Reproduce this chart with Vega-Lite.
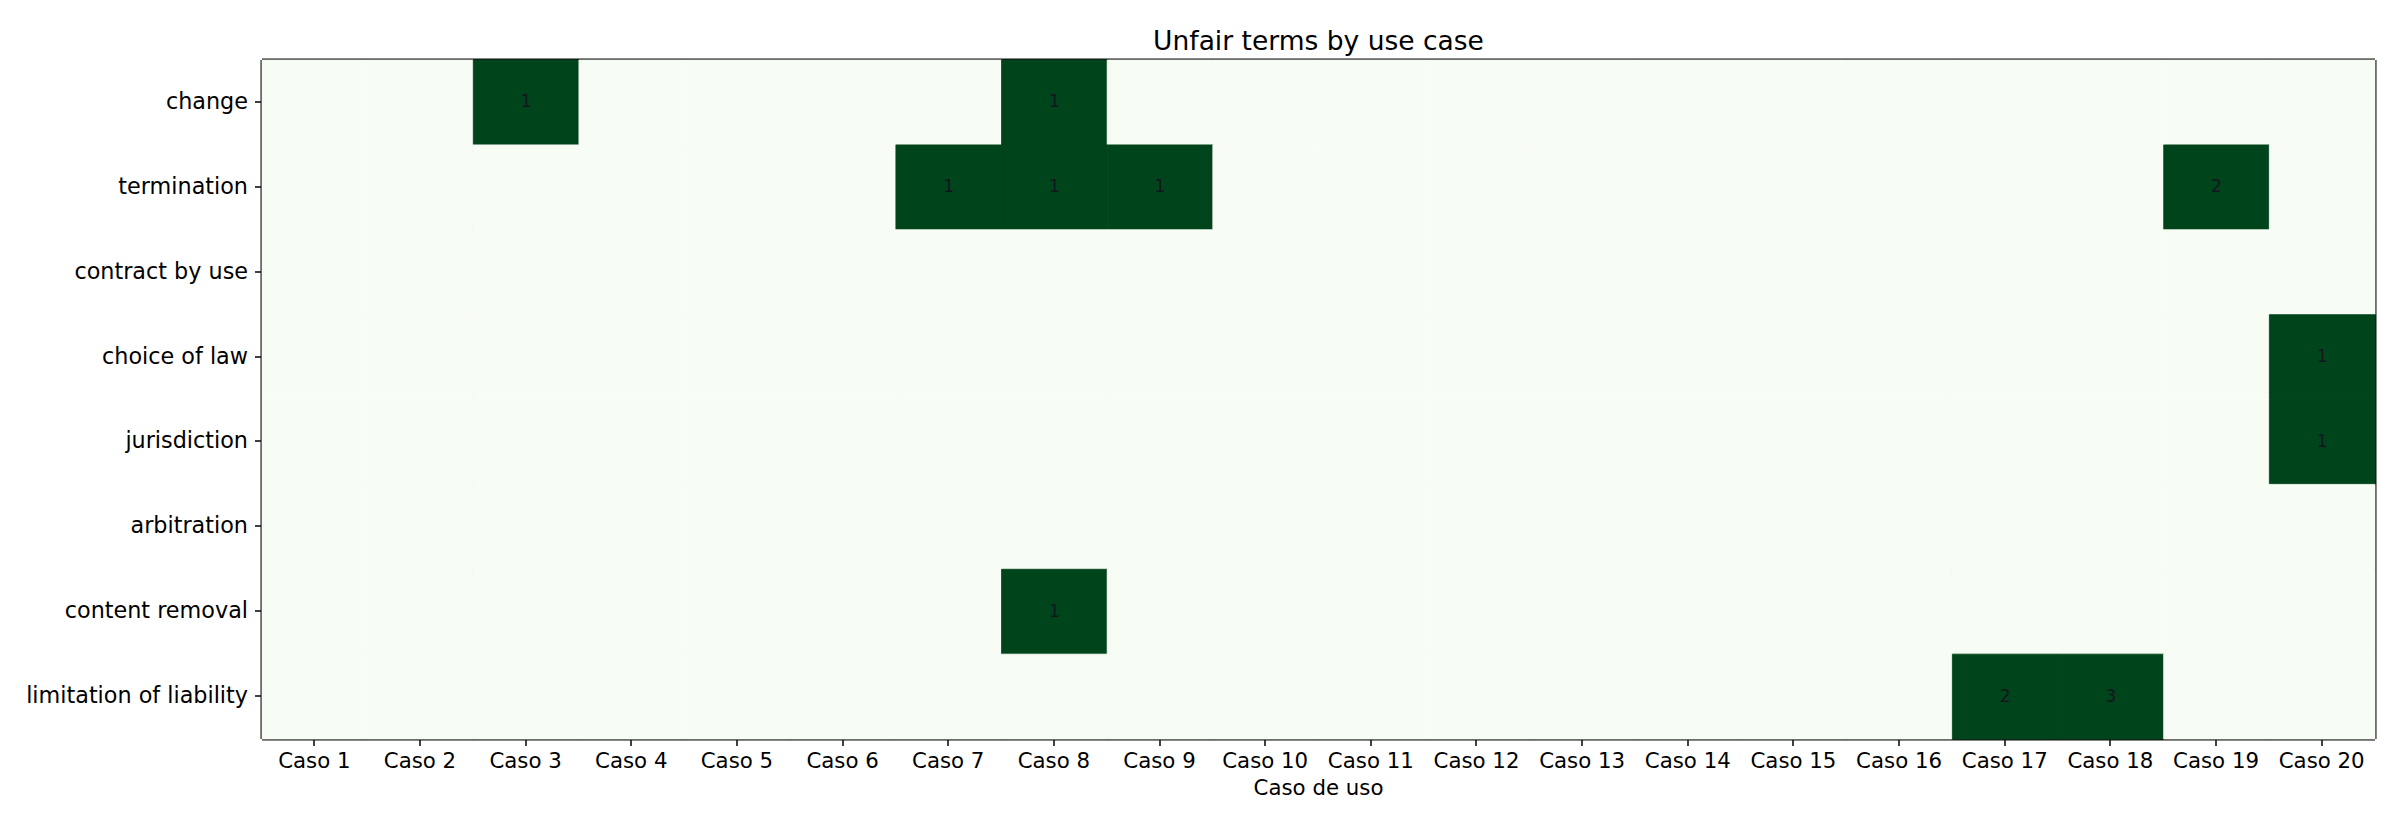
{
  "$schema": "https://vega.github.io/schema/vega-lite/v6.json",
  "width": 2113,
  "height": 679,
  "autosize": {"type": "none"},
  "padding": {"left": 262, "top": 60, "right": 25, "bottom": 93},
  "background": "white",
  "title": {"text": "Unfair terms by use case", "font": "DejaVu Sans", "fontSize": 26.5, "fontWeight": "normal", "color": "black", "anchor": "middle", "offset": 4},
  "config": {
    "view": {"stroke": null},
    "axis": {"zindex": 1, "translate": 0, "labelFont": "DejaVu Sans", "labelFontSize": 21.3, "labelColor": "black", "labelLimit": 0, "tickColor": "#111111", "tickSize": 7, "tickWidth": 1.6, "domain": true, "domainColor": "#111111", "domainWidth": 3, "grid": false, "titleFont": "DejaVu Sans", "titleFontSize": 21.3, "titleFontWeight": "normal", "titleColor": "black"}
  },
  "data": {"values": [
    {"t":"change","c":"Caso 1","v":0},{"t":"change","c":"Caso 2","v":0},{"t":"change","c":"Caso 3","v":1},{"t":"change","c":"Caso 4","v":0},{"t":"change","c":"Caso 5","v":0},{"t":"change","c":"Caso 6","v":0},{"t":"change","c":"Caso 7","v":0},{"t":"change","c":"Caso 8","v":1},{"t":"change","c":"Caso 9","v":0},{"t":"change","c":"Caso 10","v":0},{"t":"change","c":"Caso 11","v":0},{"t":"change","c":"Caso 12","v":0},{"t":"change","c":"Caso 13","v":0},{"t":"change","c":"Caso 14","v":0},{"t":"change","c":"Caso 15","v":0},{"t":"change","c":"Caso 16","v":0},{"t":"change","c":"Caso 17","v":0},{"t":"change","c":"Caso 18","v":0},{"t":"change","c":"Caso 19","v":0},{"t":"change","c":"Caso 20","v":0},
    {"t":"termination","c":"Caso 1","v":0},{"t":"termination","c":"Caso 2","v":0},{"t":"termination","c":"Caso 3","v":0},{"t":"termination","c":"Caso 4","v":0},{"t":"termination","c":"Caso 5","v":0},{"t":"termination","c":"Caso 6","v":0},{"t":"termination","c":"Caso 7","v":1},{"t":"termination","c":"Caso 8","v":1},{"t":"termination","c":"Caso 9","v":1},{"t":"termination","c":"Caso 10","v":0},{"t":"termination","c":"Caso 11","v":0},{"t":"termination","c":"Caso 12","v":0},{"t":"termination","c":"Caso 13","v":0},{"t":"termination","c":"Caso 14","v":0},{"t":"termination","c":"Caso 15","v":0},{"t":"termination","c":"Caso 16","v":0},{"t":"termination","c":"Caso 17","v":0},{"t":"termination","c":"Caso 18","v":0},{"t":"termination","c":"Caso 19","v":2},{"t":"termination","c":"Caso 20","v":0},
    {"t":"contract by use","c":"Caso 1","v":0},{"t":"contract by use","c":"Caso 2","v":0},{"t":"contract by use","c":"Caso 3","v":0},{"t":"contract by use","c":"Caso 4","v":0},{"t":"contract by use","c":"Caso 5","v":0},{"t":"contract by use","c":"Caso 6","v":0},{"t":"contract by use","c":"Caso 7","v":0},{"t":"contract by use","c":"Caso 8","v":0},{"t":"contract by use","c":"Caso 9","v":0},{"t":"contract by use","c":"Caso 10","v":0},{"t":"contract by use","c":"Caso 11","v":0},{"t":"contract by use","c":"Caso 12","v":0},{"t":"contract by use","c":"Caso 13","v":0},{"t":"contract by use","c":"Caso 14","v":0},{"t":"contract by use","c":"Caso 15","v":0},{"t":"contract by use","c":"Caso 16","v":0},{"t":"contract by use","c":"Caso 17","v":0},{"t":"contract by use","c":"Caso 18","v":0},{"t":"contract by use","c":"Caso 19","v":0},{"t":"contract by use","c":"Caso 20","v":0},
    {"t":"choice of law","c":"Caso 1","v":0},{"t":"choice of law","c":"Caso 2","v":0},{"t":"choice of law","c":"Caso 3","v":0},{"t":"choice of law","c":"Caso 4","v":0},{"t":"choice of law","c":"Caso 5","v":0},{"t":"choice of law","c":"Caso 6","v":0},{"t":"choice of law","c":"Caso 7","v":0},{"t":"choice of law","c":"Caso 8","v":0},{"t":"choice of law","c":"Caso 9","v":0},{"t":"choice of law","c":"Caso 10","v":0},{"t":"choice of law","c":"Caso 11","v":0},{"t":"choice of law","c":"Caso 12","v":0},{"t":"choice of law","c":"Caso 13","v":0},{"t":"choice of law","c":"Caso 14","v":0},{"t":"choice of law","c":"Caso 15","v":0},{"t":"choice of law","c":"Caso 16","v":0},{"t":"choice of law","c":"Caso 17","v":0},{"t":"choice of law","c":"Caso 18","v":0},{"t":"choice of law","c":"Caso 19","v":0},{"t":"choice of law","c":"Caso 20","v":1},
    {"t":"jurisdiction","c":"Caso 1","v":0},{"t":"jurisdiction","c":"Caso 2","v":0},{"t":"jurisdiction","c":"Caso 3","v":0},{"t":"jurisdiction","c":"Caso 4","v":0},{"t":"jurisdiction","c":"Caso 5","v":0},{"t":"jurisdiction","c":"Caso 6","v":0},{"t":"jurisdiction","c":"Caso 7","v":0},{"t":"jurisdiction","c":"Caso 8","v":0},{"t":"jurisdiction","c":"Caso 9","v":0},{"t":"jurisdiction","c":"Caso 10","v":0},{"t":"jurisdiction","c":"Caso 11","v":0},{"t":"jurisdiction","c":"Caso 12","v":0},{"t":"jurisdiction","c":"Caso 13","v":0},{"t":"jurisdiction","c":"Caso 14","v":0},{"t":"jurisdiction","c":"Caso 15","v":0},{"t":"jurisdiction","c":"Caso 16","v":0},{"t":"jurisdiction","c":"Caso 17","v":0},{"t":"jurisdiction","c":"Caso 18","v":0},{"t":"jurisdiction","c":"Caso 19","v":0},{"t":"jurisdiction","c":"Caso 20","v":1},
    {"t":"arbitration","c":"Caso 1","v":0},{"t":"arbitration","c":"Caso 2","v":0},{"t":"arbitration","c":"Caso 3","v":0},{"t":"arbitration","c":"Caso 4","v":0},{"t":"arbitration","c":"Caso 5","v":0},{"t":"arbitration","c":"Caso 6","v":0},{"t":"arbitration","c":"Caso 7","v":0},{"t":"arbitration","c":"Caso 8","v":0},{"t":"arbitration","c":"Caso 9","v":0},{"t":"arbitration","c":"Caso 10","v":0},{"t":"arbitration","c":"Caso 11","v":0},{"t":"arbitration","c":"Caso 12","v":0},{"t":"arbitration","c":"Caso 13","v":0},{"t":"arbitration","c":"Caso 14","v":0},{"t":"arbitration","c":"Caso 15","v":0},{"t":"arbitration","c":"Caso 16","v":0},{"t":"arbitration","c":"Caso 17","v":0},{"t":"arbitration","c":"Caso 18","v":0},{"t":"arbitration","c":"Caso 19","v":0},{"t":"arbitration","c":"Caso 20","v":0},
    {"t":"content removal","c":"Caso 1","v":0},{"t":"content removal","c":"Caso 2","v":0},{"t":"content removal","c":"Caso 3","v":0},{"t":"content removal","c":"Caso 4","v":0},{"t":"content removal","c":"Caso 5","v":0},{"t":"content removal","c":"Caso 6","v":0},{"t":"content removal","c":"Caso 7","v":0},{"t":"content removal","c":"Caso 8","v":1},{"t":"content removal","c":"Caso 9","v":0},{"t":"content removal","c":"Caso 10","v":0},{"t":"content removal","c":"Caso 11","v":0},{"t":"content removal","c":"Caso 12","v":0},{"t":"content removal","c":"Caso 13","v":0},{"t":"content removal","c":"Caso 14","v":0},{"t":"content removal","c":"Caso 15","v":0},{"t":"content removal","c":"Caso 16","v":0},{"t":"content removal","c":"Caso 17","v":0},{"t":"content removal","c":"Caso 18","v":0},{"t":"content removal","c":"Caso 19","v":0},{"t":"content removal","c":"Caso 20","v":0},
    {"t":"limitation of liability","c":"Caso 1","v":0},{"t":"limitation of liability","c":"Caso 2","v":0},{"t":"limitation of liability","c":"Caso 3","v":0},{"t":"limitation of liability","c":"Caso 4","v":0},{"t":"limitation of liability","c":"Caso 5","v":0},{"t":"limitation of liability","c":"Caso 6","v":0},{"t":"limitation of liability","c":"Caso 7","v":0},{"t":"limitation of liability","c":"Caso 8","v":0},{"t":"limitation of liability","c":"Caso 9","v":0},{"t":"limitation of liability","c":"Caso 10","v":0},{"t":"limitation of liability","c":"Caso 11","v":0},{"t":"limitation of liability","c":"Caso 12","v":0},{"t":"limitation of liability","c":"Caso 13","v":0},{"t":"limitation of liability","c":"Caso 14","v":0},{"t":"limitation of liability","c":"Caso 15","v":0},{"t":"limitation of liability","c":"Caso 16","v":0},{"t":"limitation of liability","c":"Caso 17","v":2},{"t":"limitation of liability","c":"Caso 18","v":3},{"t":"limitation of liability","c":"Caso 19","v":0},{"t":"limitation of liability","c":"Caso 20","v":0}
  ]},
  "resolve": {"axis": {"x": "independent", "y": "independent"}},
  "layer": [
    {"mark": {"type": "rect", "strokeWidth": 0.8}, "encoding": {
      "x": {"field": "c", "type": "ordinal", "sort": null, "scale": {"paddingInner": 0, "paddingOuter": 0}, "axis": {"title": "Caso de uso", "labelAngle": 0, "labelPadding": 5, "titlePadding": 6}},
      "y": {"field": "t", "type": "ordinal", "sort": null, "scale": {"paddingInner": 0, "paddingOuter": 0}, "axis": {"title": null, "labelPadding": 7, "labelFontSize": 22.3}},
      "color": {"field": "v", "type": "quantitative", "scale": {"domain": [0, 1], "range": ["#f7fcf5", "#00441b"], "clamp": true}, "legend": null},
      "stroke": {"field": "v", "type": "quantitative", "scale": {"domain": [0, 1], "range": ["#f7fcf5", "#00441b"], "clamp": true}, "legend": null}
    }},
    {"transform": [{"filter": "datum.v > 0"}], "mark": {"type": "text", "font": "DejaVu Sans", "fontSize": 17, "color": "#15151f", "baseline": "middle", "align": "center"}, "encoding": {
      "x": {"field": "c", "type": "ordinal", "sort": null, "axis": {"orient": "top", "title": null, "labels": false, "ticks": false}},
      "y": {"field": "t", "type": "ordinal", "sort": null, "axis": {"orient": "right", "title": null, "labels": false, "ticks": false}},
      "text": {"field": "v", "type": "quantitative"}
    }}
  ]
}
